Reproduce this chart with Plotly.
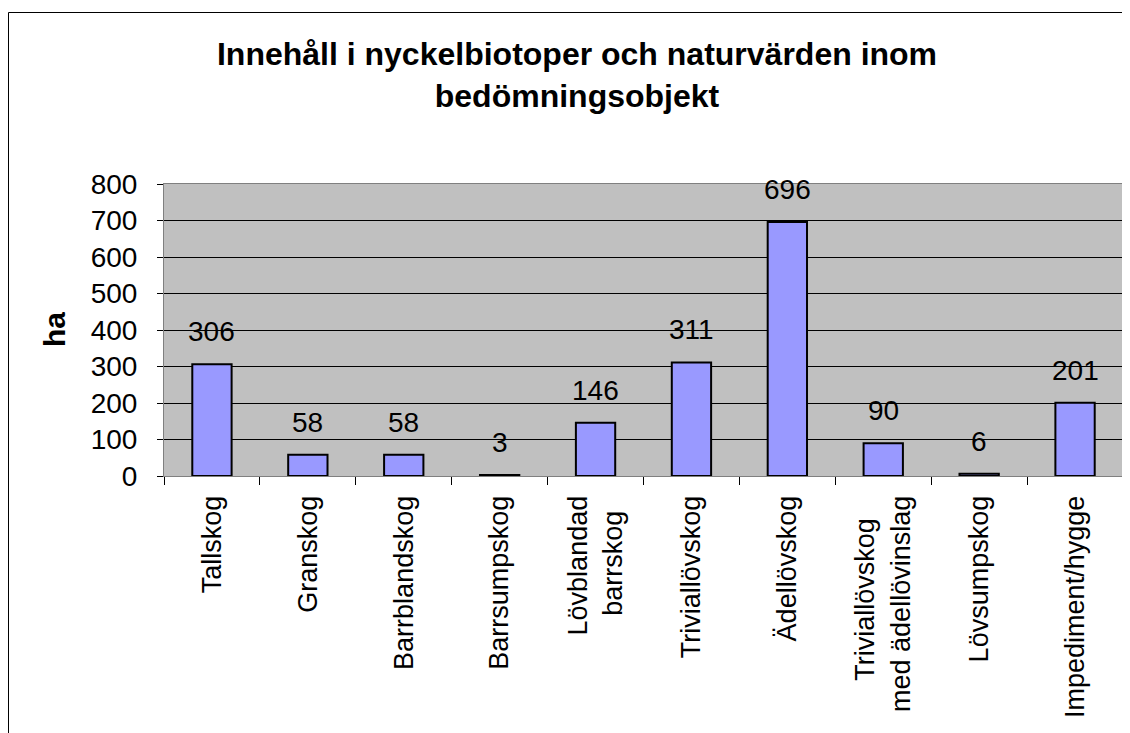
import plotly.graph_objects as go

categories = ["Tallskog", "Granskog", "Barrblandskog", "Barrsumpskog",
              "Lövblandad barrskog", "Triviallövskog",
              "Ädellövskog", "Triviallövskog med ädellövinslag",
              "Lövsumpskog", "Impediment/hygge"]
values = [306, 58, 58, 3, 146, 311, 696, 90, 6, 201]
y_ticks = [0, 100, 200, 300, 400, 500, 600, 700, 800]
# wrapped axis labels; trailing nbsp roughly centres the short line
NB = "\u00a0"
tick_labels = ["Tallskog", "Granskog", "Barrblandskog", "Barrsumpskog",
               "Lövblandad<br>barrskog" + NB * 2, "Triviallövskog",
               "Ädellövskog", "Triviallövskog" + NB * 3 + "<br>med ädellövinslag",
               "Lövsumpskog", "Impediment/hygge"]

# page body has an 8px margin, so the figure is a bit smaller than the window
W, H = 1122, 725
L, R, T, B = 156, 7, 176, 257
FONT = "Arial, Liberation Sans, sans-serif"
pw, ph = W - L - R, H - T - B

fig = go.Figure(go.Bar(
    x=categories, y=values,
    marker=dict(color="#9999FF", line=dict(color="#000000", width=2)),
    width=0.41, showlegend=False, hoverinfo="x+y",
))

# value labels a bit above each bar
for c, v in zip(categories, values):
    fig.add_annotation(x=c, y=v, text=str(v), showarrow=False,
                       yanchor="bottom", yshift=15,
                       font=dict(family=FONT, size=28, color="#000000"))

# y-axis title
fig.add_annotation(text="<b>ha</b>", xref="paper", yref="paper",
                   x=(46 - L) / pw, xanchor="center", y=0.5, yanchor="middle",
                   textangle=-90, showarrow=False,
                   font=dict(family=FONT, size=30, color="#000000"))

# outer chart frame (left/top visible, rest runs off the canvas)
fig.add_shape(type="rect", xref="paper", yref="paper",
              x0=(0.5 - L) / pw, x1=(W + 20 - L) / pw,
              y0=-(B + 20) / ph, y1=(ph + T - 4.5) / ph,
              line=dict(color="#000000", width=1), layer="below")

fig.update_layout(
    width=W, height=H,
    margin=dict(l=L, r=R, t=T, b=B),
    paper_bgcolor="#FFFFFF", plot_bgcolor="#C0C0C0",
    font=dict(family=FONT, color="#000000"),
    title=dict(text="<b>Innehåll i nyckelbiotoper och naturvärden inom<br>bedömningsobjekt</b>",
               x=569 / W, xanchor="center", xref="container",
               y=1 - 57 / H, yanchor="top", yref="container",
               font=dict(family=FONT, size=32)),
    xaxis=dict(tickangle=-90, tickson="boundaries", ticks="outside",
               tickvals=categories, ticktext=tick_labels,
               ticklen=8, tickcolor="#000000", showgrid=False,
               showline=True, linecolor="#808080", mirror=True,
               ticklabelstandoff=8,
               tickfont=dict(family=FONT, size=27)),
    yaxis=dict(range=[0, 800], tickvals=y_ticks, ticks="outside",
               ticklen=6, tickcolor="#000000",
               showgrid=True, gridcolor="#000000", gridwidth=1,
               zeroline=False, showline=True, linecolor="#808080", mirror=True,
               ticklabelstandoff=14,
               tickfont=dict(family=FONT, size=28)),
)

fig.write_html("out.html")
